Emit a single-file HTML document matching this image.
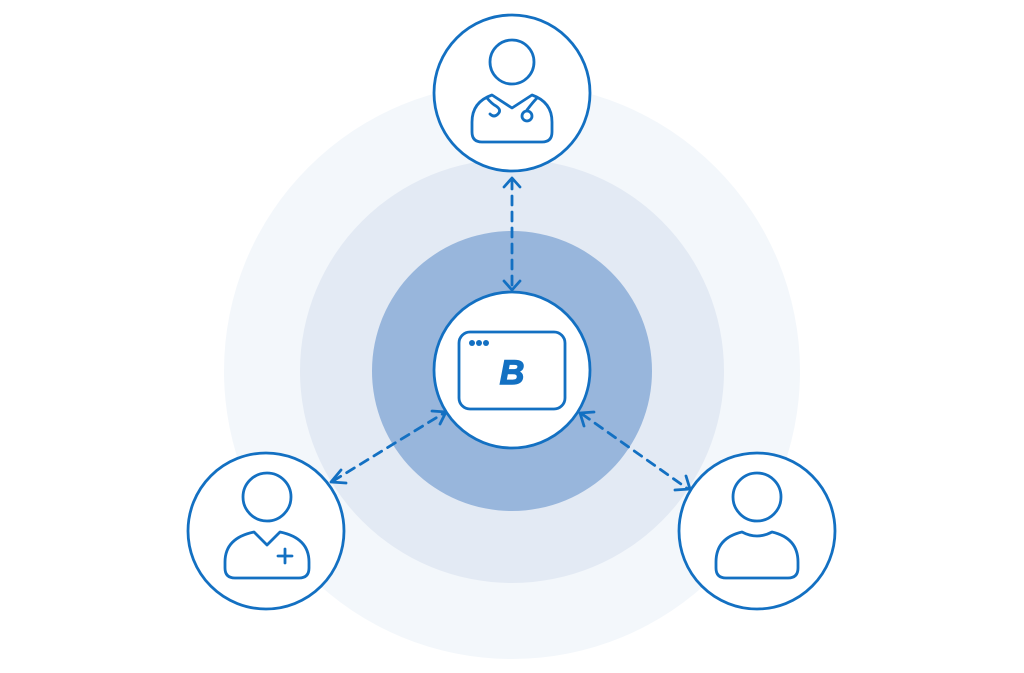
<!DOCTYPE html>
<html><head><style>html,body{margin:0;padding:0;background:#fff}svg{display:block}</style></head>
<body>
<svg width="1024" height="673" viewBox="0 0 1024 673" xmlns="http://www.w3.org/2000/svg">
<circle cx="512" cy="371" r="288" fill="#f3f7fb"/>
<circle cx="512" cy="371" r="212" fill="#e3eaf4"/>
<circle cx="512" cy="371" r="140" fill="#98b6dc"/>
<g fill="none" stroke="#1370c2" stroke-width="2.8" stroke-linecap="round" stroke-linejoin="round">
<line x1="512" y1="180" x2="512" y2="289" stroke-dasharray="9 7"/>
<polyline points="504,187 512,178 520,187"/>
<polyline points="504,281 512,290 520,281"/>
<line x1="333" y1="481" x2="444" y2="413" stroke-dasharray="9 7"/>
<polyline points="341,470 331,482 346,483"/>
<polyline points="432,411 446,412 440,424"/>
<line x1="582" y1="414" x2="688" y2="489" stroke-dasharray="9 7"/>
<polyline points="594,412 580,413 584,426"/>
<polyline points="675,490 690,489 686,476"/>
<circle cx="512" cy="93" r="78" fill="#fff"/>
<circle cx="512" cy="370" r="78" fill="#fff"/>
<circle cx="266" cy="531" r="78" fill="#fff"/>
<circle cx="757" cy="531" r="78" fill="#fff"/>
<circle cx="512" cy="62" r="22"/>
<path d="M492 95 L512 108 L532 95 Q552 102 552 122 L552 132 Q552 142 542 142 L482 142 Q472 142 472 132 L472 122 Q472 102 492 95 Z"/>
<path d="M487 98 Q492 104 496 106 Q502 110 498 114 Q494 118 490 114"/>
<path d="M537 98 Q533 102 527 110"/>
<circle cx="527" cy="116" r="5"/>
<rect x="459" y="332" width="106" height="77" rx="11"/>
<circle cx="267" cy="497" r="24"/>
<path d="M254 532 L267 545 L280 532 Q309 538 309 562 L309 568 Q309 578 299 578 L235 578 Q225 578 225 568 L225 562 Q225 538 254 532 Z"/>
<path d="M285 549 L285 563 M278 556 L292 556"/>
<circle cx="757" cy="497" r="24"/>
<path d="M742 532 Q757 540 772 532 Q798 538 798 562 L798 568 Q798 578 788 578 L726 578 Q716 578 716 568 L716 562 Q716 538 742 532 Z"/>
</g>
<g fill="#1370c2">
<circle cx="472" cy="343" r="3"/><circle cx="479" cy="343" r="3"/><circle cx="486" cy="343" r="3"/>
<text x="512" y="384" font-family="Liberation Sans, sans-serif" font-weight="bold" font-style="italic" font-size="34" text-anchor="middle" stroke="#1370c2" stroke-width="1.5">B</text>
</g>
</svg>
</body></html>
